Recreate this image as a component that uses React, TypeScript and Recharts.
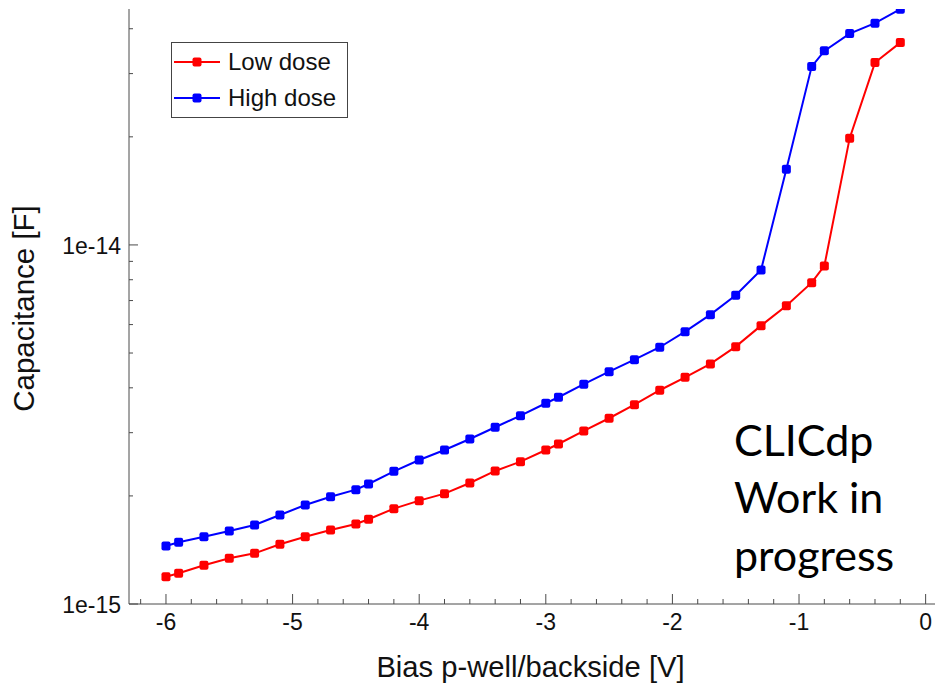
import React from "react";
import { LineChart, Line, XAxis, YAxis, Legend } from "recharts";

// bias voltage [V]
const bias = [
  -6, -5.9, -5.7, -5.5, -5.3, -5.1, -4.9, -4.7, -4.5, -4.4, -4.2, -4.0, -3.8, -3.6, -3.4, -3.2,
  -3.0, -2.9, -2.7, -2.5, -2.3, -2.1, -1.9, -1.7, -1.5, -1.3, -1.1, -0.9, -0.8, -0.6, -0.4, -0.2,
];

// capacitance in fF (1e-15 F)
const lowDose = [
  1.191, 1.218, 1.282, 1.341, 1.384, 1.467, 1.54, 1.607, 1.671, 1.722, 1.843, 1.94, 2.029, 2.173,
  2.347, 2.491, 2.685, 2.79, 3.033, 3.291, 3.591, 3.938, 4.28, 4.662, 5.209, 5.96, 6.774, 7.852,
  8.739, 19.83, 32.2, 36.6,
];
const highDose = [
  1.45, 1.485, 1.54, 1.597, 1.66, 1.77, 1.887, 1.99, 2.082, 2.159, 2.342, 2.518, 2.685, 2.881,
  3.106, 3.346, 3.623, 3.765, 4.093, 4.437, 4.791, 5.189, 5.735, 6.395, 7.243, 8.518, 16.25, 31.38,
  34.71, 38.78, 41.45, 45.35,
];

const xTicks = [
  -6.2, -6, -5.8, -5.6, -5.4, -5.2, -5, -4.8, -4.6, -4.4, -4.2, -4, -3.8, -3.6, -3.4, -3.2, -3,
  -2.8, -2.6, -2.4, -2.2, -2, -1.8, -1.6, -1.4, -1.2, -1, -0.8, -0.6, -0.4, -0.2, 0,
];
const yTicks = [1e-15, 2e-15, 3e-15, 4e-15, 5e-15, 6e-15, 7e-15, 8e-15, 9e-15, 1e-14, 2e-14, 3e-14, 4e-14];

const series = [
  { key: "low", name: "Low dose", color: "#ff0000" },
  { key: "high", name: "High dose", color: "#0000ff" },
];

const data = bias.map((v, i) => ({
  bias: v,
  low: lowDose[i] * 1e-15,
  high: highDose[i] * 1e-15,
}));

const FONT = "'Liberation Sans', Arial, sans-serif";
const AXIS = "#4a4a4a";
const TM = 8;

const XTick = (props: any) => {
  const { x, y, payload } = props;
  const v = payload.value;
  const major = Math.abs(v - Math.round(v)) < 1e-6;
  const ay = y - TM;
  return (
    <g>
      <line x1={x} x2={x} y1={ay} y2={ay - (major ? 10 : 5)} stroke={AXIS} strokeWidth={1} />
      {major && (
        <text x={x} y={y} dy={18} textAnchor="middle" fontSize={23} fill="#111" fontFamily={FONT}>
          {Math.round(v)}
        </text>
      )}
    </g>
  );
};

const YTick = (props: any) => {
  const { x, y, payload } = props;
  const lg = Math.log10(payload.value);
  const major = Math.abs(lg - Math.round(lg)) < 1e-6;
  const ax = x + TM;
  return (
    <g>
      <line x1={ax} x2={ax + (major ? 9 : 4)} y1={y} y2={y} stroke={AXIS} strokeWidth={1} />
      {major && (
        <text x={x} y={y} dy={9} textAnchor="end" fontSize={23} fill="#111" fontFamily={FONT}>
          {`1e${Math.round(lg)}`}
        </text>
      )}
    </g>
  );
};

const SquareDot = (props: any) => {
  const { cx, cy, stroke, index } = props;
  if (cx == null || cy == null) return null;
  return <rect key={index} x={cx - 4.5} y={cy - 4.5} width={9} height={9} rx={2} fill={stroke} />;
};

const LegendBox = () => (
  <div
    style={{
      width: 177,
      height: 76,
      boxSizing: "border-box",
      border: "1.5px solid #444",
      background: "#fff",
      paddingTop: 1,
      fontFamily: FONT,
      fontSize: 24,
      color: "#111",
    }}
  >
    {series.map((s) => (
      <div key={s.key} style={{ display: "flex", alignItems: "center", height: 36 }}>
        <svg width={52} height={12} style={{ marginLeft: 2 }}>
          <line x1={0} x2={46} y1={6} y2={6} stroke={s.color} strokeWidth={2} />
          <rect x={18.5} y={1.5} width={9} height={9} rx={2} fill={s.color} />
        </svg>
        <span style={{ marginLeft: 2 }}>{s.name}</span>
      </div>
    ))}
  </div>
);

export default function App() {
  return (
    <div style={{ position: "absolute", left: 0, top: 0, width: 935, height: 686, overflow: "hidden", background: "#fff" }}>
      <LineChart width={935} height={686} data={data} margin={{ top: 9, right: 0, bottom: 0, left: 0 }}>
        <XAxis
          dataKey="bias"
          type="number"
          domain={[-6.292, 0.074]}
          allowDataOverflow
          ticks={xTicks}
          interval={0}
          tickSize={0}
          tickMargin={TM}
          tick={<XTick />}
          height={82}
          stroke={AXIS}
          label={{
            content: ({ viewBox }: any) => (
              <text
                x={viewBox.x + viewBox.width / 2 - 1.5}
                y={viewBox.y + 73}
                textAnchor="middle"
                fontSize={29.2}
                fill="#111"
                fontFamily={FONT}
              >
                Bias p-well/backside [V]
              </text>
            ),
          }}
        />
        <XAxis
          xAxisId="top"
          orientation="top"
          dataKey="bias"
          type="number"
          domain={[-6.292, 0.074]}
          allowDataOverflow
          tick={false}
          tickLine={false}
          height={0}
          stroke={AXIS}
        />
        <YAxis
          type="number"
          scale="log"
          domain={[1e-15, 4.54e-14]}
          allowDataOverflow
          ticks={yTicks}
          interval={0}
          tickSize={0}
          tickMargin={TM}
          tick={<YTick />}
          width={129}
          stroke={AXIS}
          label={{
            content: ({ viewBox }: any) => {
              const cx = 34;
              const cy = viewBox.y + viewBox.height / 2 + 2;
              return (
                <text
                  x={cx}
                  y={cy}
                  transform={`rotate(-90 ${cx} ${cy})`}
                  textAnchor="middle"
                  fontSize={29.5}
                  fill="#111"
                  fontFamily={FONT}
                >
                  Capacitance [F]
                </text>
              );
            },
          }}
        />
        <Legend
          layout="vertical"
          align="center"
          verticalAlign="middle"
          content={<LegendBox />}
          wrapperStyle={{ left: 171, top: 42, width: "auto", height: "auto" }}
        />
        {series.map((s) => (
          <Line
            key={s.key}
            dataKey={s.key}
            name={s.name}
            stroke={s.color}
            strokeWidth={2}
            dot={<SquareDot />}
            activeDot={false}
            isAnimationActive={false}
          />
        ))}
      </LineChart>
      <svg width={935} height={686} style={{ position: "absolute", left: 0, top: 0, pointerEvents: "none" }}>
        <g fontFamily="Lato, 'Open Sans', sans-serif" fontSize={43} fill="#000">
          <text x={734} y={456}>CLICdp</text>
          <text x={734} y={513}>Work in</text>
          <text x={734} y={571}>progress</text>
        </g>
      </svg>
    </div>
  );
}
